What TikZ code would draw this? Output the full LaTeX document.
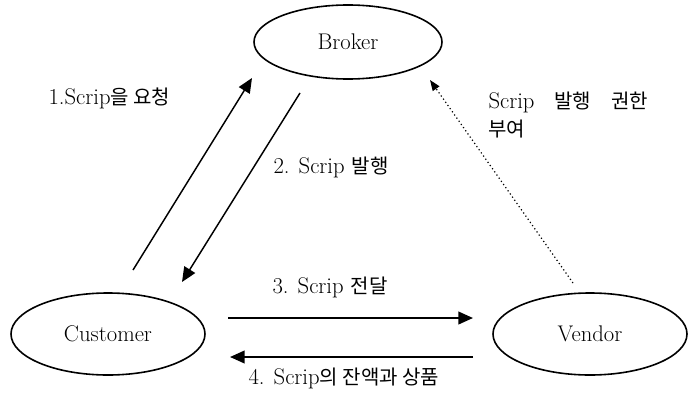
\documentclass[tikz,border=0pt]{standalone}
\usepackage{fontspec}
\newfontfamily\hangul{Noto Sans CJK KR}
\newcommand\hg[1]{{\hangul\fontsize{15}{19}\selectfont #1}}
\usetikzlibrary{arrows.meta,shapes.geometric}

\tikzset{every picture/.style={line width=0.75pt}}
\tikzset{
	party/.style={draw, ellipse, line width=1.2pt, inner sep=0pt, font=\fontsize{17}{20}\selectfont},
	msg/.style={line width=1.1pt, -{Triangle[length=11pt,width=9.5pt]}},
	grant/.style={line width=0.9pt, dotted, -{Triangle[length=8pt,width=6pt]}},
	note/.style={anchor=west, inner sep=0pt, align=left, font=\fontsize{17}{19}\selectfont}
}

\begin{document}
\begin{tikzpicture}[x=0.75pt,y=0.75pt,yscale=-1,xscale=1]
	\useasboundingbox (0,0) rectangle (696,396);

	%Shape: Ellipse [id:broker]
	\node [party, minimum width=141pt, minimum height=55.5pt] (broker) at (348,42) {Broker};
	%Shape: Ellipse [id:customer]
	\node [party, minimum width=145.5pt, minimum height=61.5pt] (customer) at (108,334) {Customer};
	%Shape: Ellipse [id:vendor]
	\node [party, minimum width=145.5pt, minimum height=61.5pt] (vendor) at (590,334) {Vendor};

	% arrow ends
	\coordinate (reqFrom) at (133,270);
	\coordinate (reqTo) at (252,78);
	\coordinate (issFrom) at (300,93);
	\coordinate (issTo) at (182,282);
	\coordinate (payFrom) at (228,318);
	\coordinate (payTo) at (473,318);
	\coordinate (retFrom) at (473,357);
	\coordinate (retTo) at (230,357);
	\coordinate (grFrom) at (573,283);
	\coordinate (grTo) at (430,80);

	%Straight Lines [id:request]
	\draw [msg] (reqFrom) -- (reqTo);
	%Straight Lines [id:issue]
	\draw [msg] (issFrom) -- (issTo);
	%Straight Lines [id:pay]
	\draw [msg, line width=1.5pt] (payFrom) -- (payTo);
	%Straight Lines [id:return]
	\draw [msg, line width=1.5pt] (retFrom) -- (retTo);
	%Straight Lines [id:grant]
	\draw [grant] (grFrom) -- (grTo);

	% Text Node
	\node [note] (reqLbl) at (48,98) {1.Scrip\hg{을 요청}};
	% Text Node
	\node [note] (issLbl) at (273,167) {2. Scrip \hg{발행}};
	% Text Node
	\node [note] (payLbl) at (272,287) {3. Scrip \hg{전달}};
	% Text Node
	\node [note] (retLbl) at (248,378) {4. Scrip\hg{의 잔액과 상품}};
	% Text Node
	\node [note] (grLbl) at (488,115.5) {Scrip\hspace{15pt}\hg{발행\hspace{15pt}권한}\\[2pt]\hg{부여}};

\end{tikzpicture}
\end{document}
